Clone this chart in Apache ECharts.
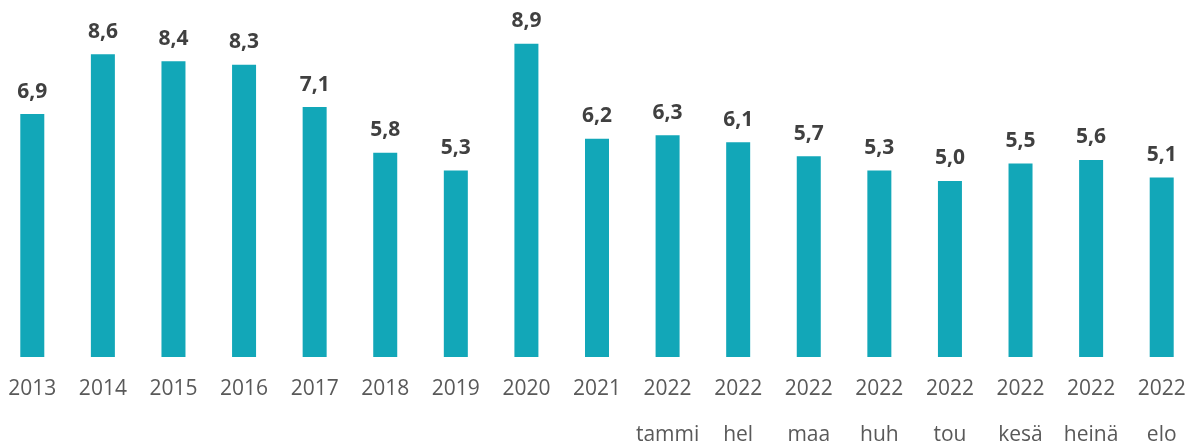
<!DOCTYPE html>
<html>
<head>
<meta charset="utf-8">
<script src="https://cdn.jsdelivr.net/npm/echarts@6/dist/echarts.min.js"></script>
<style>
  html, body { margin: 0; padding: 0; background: #fff; }
  #chart { width: 1194px; height: 447px; }
</style>
</head>
<body>
<div id="chart"></div>
<script>
  // years on first label line, month (Finnish, short) on second line
  var years = ['2013','2014','2015','2016','2017','2018','2019','2020','2021',
               '2022','2022','2022','2022','2022','2022','2022','2022'];
  var months = ['','','','','','','','','',
                'tammi','hel','maa','huh','tou','kesä','heinä','elo'];
  var values = [6.9, 8.6, 8.4, 8.3, 7.1, 5.8, 5.3, 8.9, 6.2,
                6.3, 6.1, 5.7, 5.3, 5.0, 5.5, 5.6, 5.1];

  var categories = years.map(function (y, i) {
    return months[i] ? y + '\n' + months[i] : y;
  });

  var chart = echarts.init(document.getElementById('chart'));
  var option = {
    animation: false,
    grid: { left: -3, right: -3, top: 5, bottom: 90, containLabel: false, outerBoundsMode: 'none' },
    xAxis: {
      type: 'category',
      data: categories,
      axisLine: { show: false },
      axisTick: { show: false },
      axisLabel: {
        interval: 0,
        margin: 9,
        color: '#595959',
        fontFamily: 'Open Sans',
        fontSize: 21,
        lineHeight: 46
      }
    },
    yAxis: {
      type: 'value',
      min: 0,
      max: 10,
      show: false,
      splitLine: { show: false }
    },
    series: [{
      type: 'bar',
      data: values,
      barWidth: 24,
      itemStyle: { color: '#12A7B8' },
      label: {
        show: true,
        position: 'top',
        distance: 12,
        color: '#404040',
        fontFamily: 'Open Sans',
        fontWeight: 'bold',
        fontSize: 21,
        formatter: function (p) {
          return p.value.toFixed(1).replace('.', ',');
        }
      }
    }]
  };
  chart.setOption(option);
</script>
</body>
</html>
